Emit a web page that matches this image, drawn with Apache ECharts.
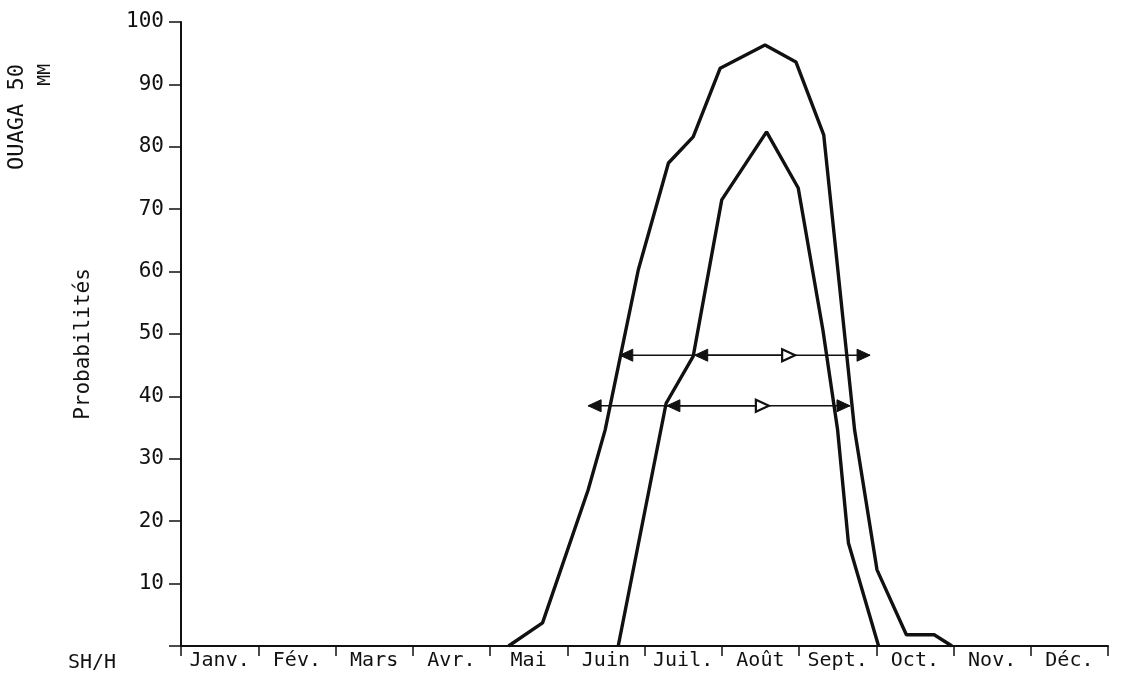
<!DOCTYPE html>
<html>
<head>
<meta charset="utf-8">
<script src="https://cdn.jsdelivr.net/npm/echarts@6/dist/echarts.min.js"></script>
<style>
  html, body { margin: 0; padding: 0; background: #fff; }
  #chart { width: 1121px; height: 678px; }
</style>
</head>
<body>
<div id="chart"></div>
<script>
// Month axis labels (each month is one unit on the x scale, 0 = start of January)
const months = ['Janv.', 'Fév.', 'Mars', 'Avr.', 'Mai', 'Juin', 'Juil.', 'Août', 'Sept.', 'Oct.', 'Nov.', 'Déc.'];

// Outer curve: position in months, probability (%)
const outerMonth = [4.24, 4.68, 5.27, 5.49, 5.92, 6.31, 6.63, 6.98, 7.56, 7.96, 8.32, 8.72, 9.01, 9.39, 9.75, 9.98];
const outerProb  = [0,    3.7,  25,   34.6, 60.3, 77.4, 81.6, 92.6, 96.3, 93.6, 81.9, 34.6, 12.2, 1.8,  1.8,  0];

// Inner curve
const innerMonth = [5.66, 6.28, 6.63, 7.00, 7.58, 7.99, 8.31, 8.50, 8.64, 9.03];
const innerProb  = [0,    38.9, 46.4, 71.5, 82.4, 73.4, 50.6, 34.6, 16.5, 0];

// Double arrows: level (%), start month, end month
const arrowLevel      = [46.6, 38.5];
const arrowOuterFrom  = [5.68, 5.27];
const arrowOuterTo    = [8.92, 8.66];
const arrowInnerFrom  = [6.65, 6.29];
const arrowInnerTo    = [7.95, 7.61];

// Y tick values
const yTicks = [0, 10, 20, 30, 40, 50, 60, 70, 80, 90, 100];

const FONT = 'DejaVu Sans Mono';
const INK = '#111';

const zip = (a, b) => a.map((v, i) => [v, b[i]]);

function arrowRenderer(openRight) {
  return function (params, api) {
    const s = api.value(0), e = api.value(1), v = api.value(2);
    const p1 = api.coord([s, v]);
    const p2 = api.coord([e, v]);
    const w = 13, h = 6;
    const y = p1[1];
    return {
      type: 'group',
      children: [
        { type: 'line', shape: { x1: p1[0], y1: y, x2: p2[0], y2: p2[1] },
          style: { stroke: INK, lineWidth: 1.6 } },
        { type: 'polygon', shape: { points: [[p1[0], y], [p1[0] + w, y - h], [p1[0] + w, y + h]] },
          style: { fill: INK, stroke: INK, lineWidth: 1 } },
        { type: 'polygon', shape: { points: [[p2[0], p2[1]], [p2[0] - w, p2[1] - h], [p2[0] - w, p2[1] + h]] },
          style: openRight ? { fill: '#fff', stroke: INK, lineWidth: 2.2 } : { fill: INK, stroke: INK, lineWidth: 1 } }
      ]
    };
  };
}

const chart = echarts.init(document.getElementById('chart'), null, { renderer: 'canvas' });

chart.setOption({
  backgroundColor: '#fff',
  animation: false,
  grid: { left: 181, right: 13, top: 22, bottom: 32, containLabel: false },
  xAxis: [
    { type: 'value', min: 0, max: 12, show: false },
    {
      type: 'category', data: months, boundaryGap: true, position: 'bottom',
      axisLine: { show: true, lineStyle: { color: INK, width: 2 } },
      axisTick: { show: true, length: 10, inside: false, lineStyle: { color: INK, width: 1.5 } },
      axisLabel: { color: INK, fontFamily: FONT, fontSize: 20, margin: 5, interval: 0 },
      splitLine: { show: false }
    }
  ],
  yAxis: {
    type: 'value', min: yTicks[0], max: yTicks[yTicks.length - 1], interval: 10,
    axisLine: { show: true, onZero: false, lineStyle: { color: INK, width: 2 } },
    axisTick: { show: true, length: 12, inside: false, lineStyle: { color: INK, width: 1.5 } },
    axisLabel: {
      color: INK, fontFamily: FONT, fontSize: 21, margin: 17,
      formatter: v => (v === 0 ? '' : String(v))
    },
    splitLine: { show: false }
  },
  graphic: [
    { type: 'text', x: 17, y: 64, rotation: Math.PI / 2,
      style: { text: 'OUAGA 50', font: '22px "' + FONT + '"', fill: INK, align: 'right', verticalAlign: 'middle' } },
    { type: 'text', x: 45, y: 64, rotation: Math.PI / 2,
      style: { text: 'MM', font: '18px "' + FONT + '"', fill: INK, align: 'right', verticalAlign: 'middle' } },
    { type: 'text', x: 84, y: 344, rotation: Math.PI / 2,
      style: { text: 'Probabilités', font: '21px "' + FONT + '"', fill: INK, align: 'center', verticalAlign: 'middle' } },
    { type: 'text', x: 92, y: 663,
      style: { text: 'SH/H', font: '20px "' + FONT + '"', fill: INK, align: 'center', verticalAlign: 'middle' } }
  ],
  series: [
    {
      type: 'line', xAxisIndex: 0, data: zip(outerMonth, outerProb),
      symbol: 'none', lineStyle: { color: INK, width: 3.4 }, z: 3
    },
    {
      type: 'line', xAxisIndex: 0, data: zip(innerMonth, innerProb),
      symbol: 'none', lineStyle: { color: INK, width: 3.4 }, z: 3
    },
    {
      type: 'custom', xAxisIndex: 0, z: 4,
      encode: { x: [0, 1], y: 2 },
      data: arrowLevel.map((v, i) => [arrowOuterFrom[i], arrowOuterTo[i], v]),
      renderItem: arrowRenderer(false)
    },
    {
      type: 'custom', xAxisIndex: 0, z: 5,
      encode: { x: [0, 1], y: 2 },
      data: arrowLevel.map((v, i) => [arrowInnerFrom[i], arrowInnerTo[i], v]),
      renderItem: arrowRenderer(true)
    }
  ]
});
</script>
</body>
</html>
